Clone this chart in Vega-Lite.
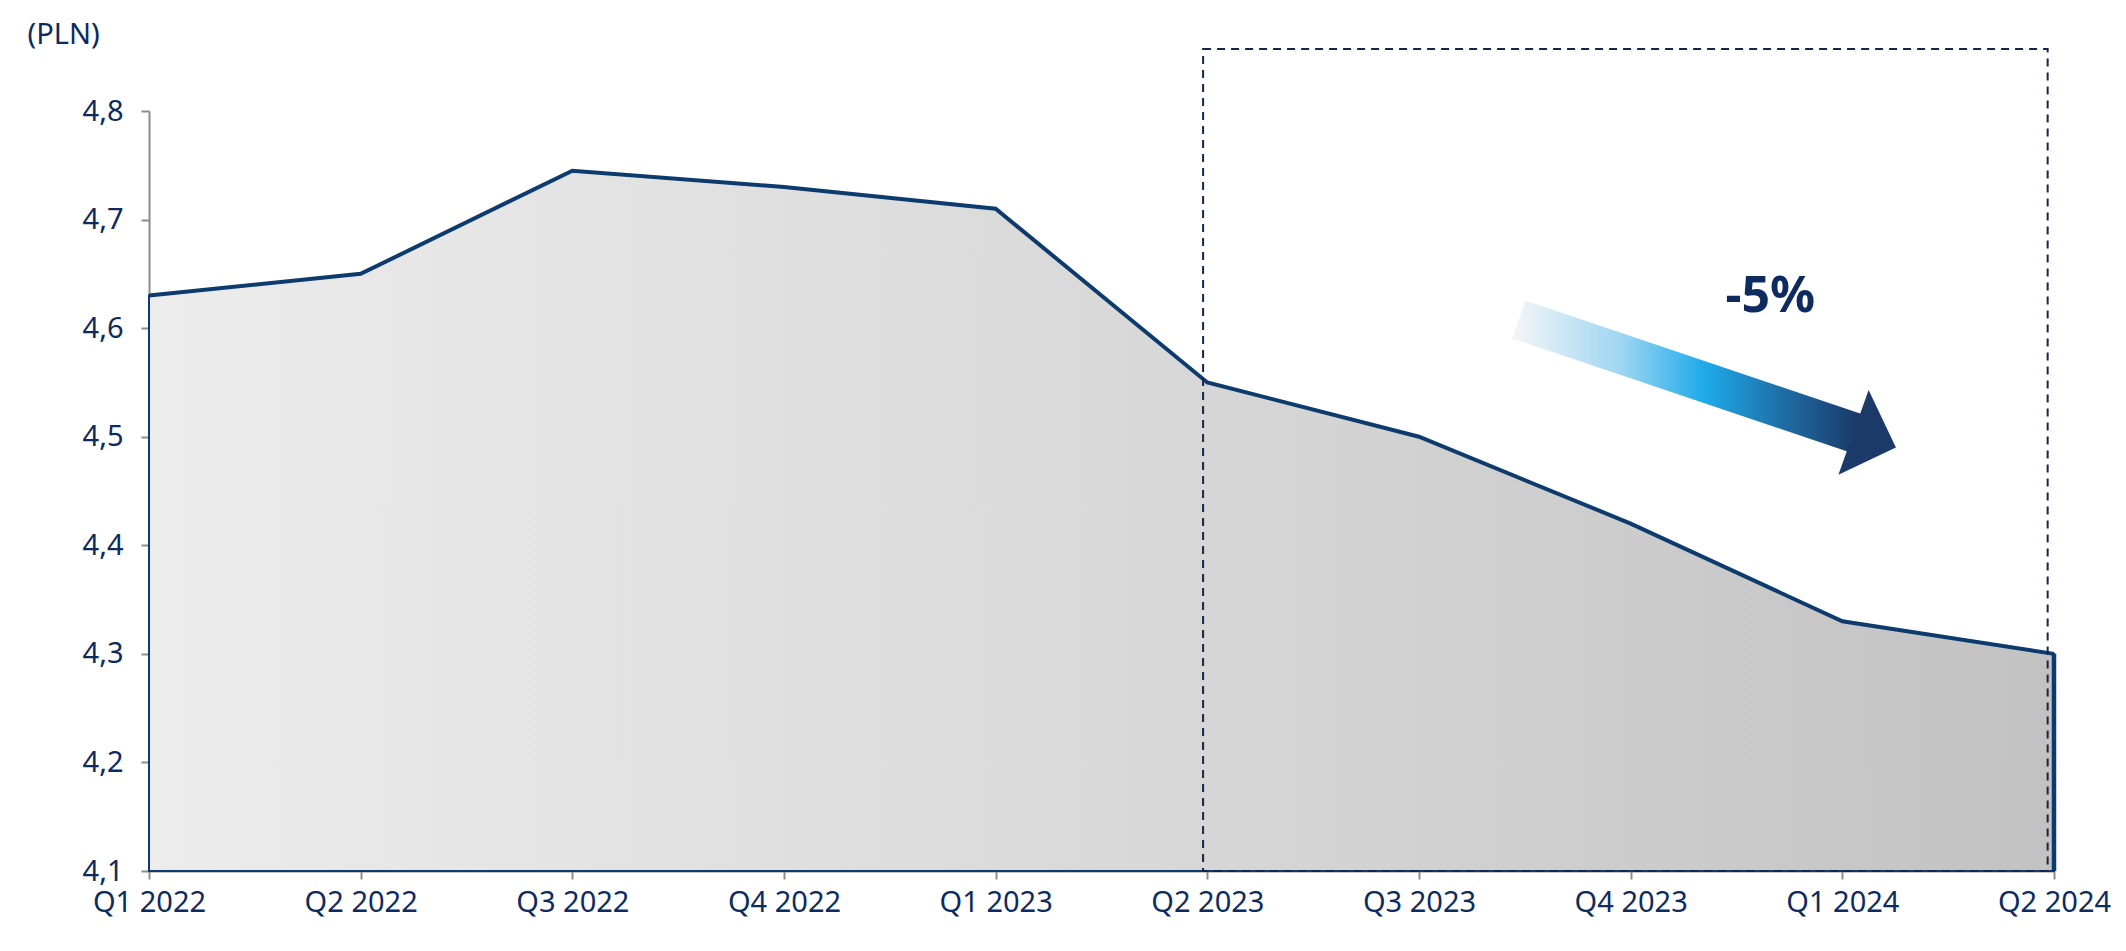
{
  "$schema": "https://vega.github.io/schema/vega-lite/v6.json",
  "autosize": "none",
  "width": 1905,
  "height": 760,
  "padding": {"left": 149, "top": 111, "right": 72, "bottom": 80},
  "background": "white",
  "config": {
    "view": {"stroke": null},
    "axis": {
      "labelFont": "Noto Sans", "labelFontSize": 29, "labelColor": "#0d2b5e",
      "domainColor": "#8c8c8c", "domainWidth": 2, "tickColor": "#8c8c8c", "tickWidth": 2, "tickSize": 8,
      "grid": false
    }
  },
  "datasets": {
    "series": [
      {"i": 0, "q": "Q1 2022", "v": 4.63},
      {"i": 1, "q": "Q2 2022", "v": 4.65},
      {"i": 2, "q": "Q3 2022", "v": 4.745},
      {"i": 3, "q": "Q4 2022", "v": 4.73},
      {"i": 4, "q": "Q1 2023", "v": 4.71},
      {"i": 5, "q": "Q2 2023", "v": 4.55},
      {"i": 6, "q": "Q3 2023", "v": 4.5},
      {"i": 7, "q": "Q4 2023", "v": 4.42},
      {"i": 8, "q": "Q1 2024", "v": 4.33},
      {"i": 9, "q": "Q2 2024", "v": 4.3}
    ],
    "edge": [{"i": 9, "v": 4.3, "b": 4.1}],
    "box": [{"x1": 4.98, "x2": 8.97, "y1": 4.1, "y2": 4.857}],
    "shaft": [{"x": 6.472, "y": 4.608}, {"x": 8.068, "y": 4.503}],
    "head": [{"x": 8.153, "y": 4.497}],
    "label": [{"x": 7.66, "y": 4.629, "t": "-5%"}]
  },
  "layer": [
    {
      "data": {"name": "series"},
      "mark": {
        "type": "area",
        "fill": {"gradient": "linear", "x1": 0, "y1": 0, "x2": 1, "y2": 0,
          "stops": [{"offset": 0, "color": "#ececec"}, {"offset": 0.5, "color": "#d9d9d9"}, {"offset": 1, "color": "#c2c2c2"}]},
        "stroke": "#0d3b6e", "strokeWidth": 2
      },
      "encoding": {
        "x": {"field": "i", "type": "quantitative",
          "scale": {"domain": [0, 9], "nice": false, "zero": false},
          "axis": {"values": [0,1,2,3,4,5,6,7,8,9], "title": null, "labelPadding": 9, "labelFlush": false, "labelOverlap": false, "labelBound": false,
            "labelExpr": "['Q1 2022','Q2 2022','Q3 2022','Q4 2022','Q1 2023','Q2 2023','Q3 2023','Q4 2023','Q1 2024','Q2 2024'][datum.value]"}},
        "y": {"field": "v", "type": "quantitative",
          "scale": {"domain": [4.1, 4.8], "nice": false, "zero": false},
          "axis": {"values": [4.1,4.2,4.3,4.4,4.5,4.6,4.7,4.8], "labelPadding": 18, "labelFlush": false, "labelOverlap": false,
            "labelExpr": "replace(format(datum.value, '.1f'), '.', ',')",
            "title": "(PLN)", "titleAngle": 0, "titleAlign": "left", "titleBaseline": "alphabetic",
            "titleX": -122, "titleY": -68, "titleFont": "Noto Sans", "titleFontSize": 29,
            "titleFontWeight": "normal", "titleColor": "#0d2b5e"}},
        "y2": {"datum": 4.1}
      }
    },
    {
      "data": {"name": "series"},
      "mark": {"type": "line", "stroke": "#0d3b6e", "strokeWidth": 4, "strokeJoin": "miter"},
      "encoding": {
        "x": {"field": "i", "type": "quantitative"},
        "y": {"field": "v", "type": "quantitative"}
      }
    },
    {
      "data": {"name": "edge"},
      "mark": {"type": "rule", "stroke": "#0d3b6e", "strokeWidth": 4.5},
      "encoding": {
        "x": {"field": "i", "type": "quantitative"},
        "y": {"field": "v", "type": "quantitative"},
        "y2": {"field": "b"}
      }
    },
    {
      "data": {"name": "box"},
      "mark": {"type": "rect", "fill": null, "fillOpacity": 0, "stroke": "#14264a", "strokeWidth": 2, "strokeDash": [8, 6], "clip": false},
      "encoding": {
        "x": {"field": "x1", "type": "quantitative"},
        "x2": {"field": "x2"},
        "y": {"field": "y1", "type": "quantitative"},
        "y2": {"field": "y2"}
      }
    },
    {
      "data": {"name": "shaft"},
      "mark": {
        "type": "line", "strokeWidth": 40, "strokeCap": "butt",
        "stroke": {"gradient": "linear", "x1": 0, "y1": 0, "x2": 1, "y2": 0,
          "stops": [
            {"offset": 0, "color": "#f0f4f6"},
            {"offset": 0.3, "color": "#9fd6f2"},
            {"offset": 0.55, "color": "#1eaaea"},
            {"offset": 0.78, "color": "#1e6ea6"},
            {"offset": 1, "color": "#1b3a6a"}
          ]}
      },
      "encoding": {
        "x": {"field": "x", "type": "quantitative"},
        "y": {"field": "y", "type": "quantitative"}
      }
    },
    {
      "data": {"name": "head"},
      "mark": {"type": "point", "shape": "M -0.5 -1 L 0.5 0 L -0.5 1 Z", "size": 8100, "angle": 19.6, "filled": true, "fill": "#1b3a6a", "opacity": 1, "strokeWidth": 0},
      "encoding": {
        "x": {"field": "x", "type": "quantitative"},
        "y": {"field": "y", "type": "quantitative"}
      }
    },
    {
      "data": {"name": "label"},
      "mark": {"type": "text", "font": "Noto Sans", "fontSize": 50, "fontWeight": "bold", "fill": "#0d2b5e", "align": "center", "baseline": "middle"},
      "encoding": {
        "x": {"field": "x", "type": "quantitative"},
        "y": {"field": "y", "type": "quantitative"},
        "text": {"field": "t"}
      }
    }
  ]
}
